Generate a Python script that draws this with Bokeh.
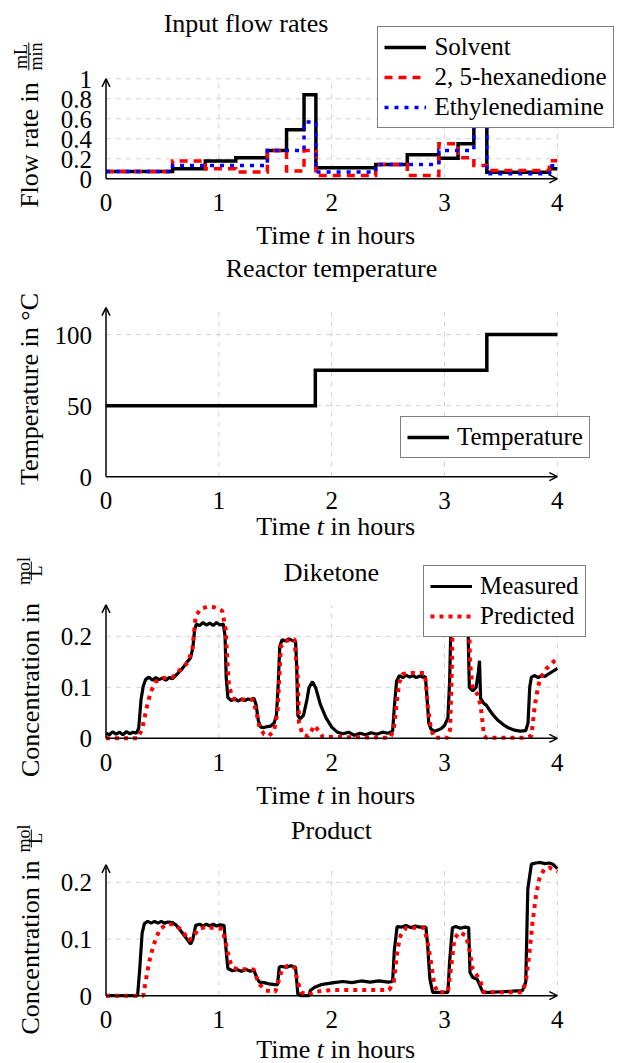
import math
from bokeh.plotting import figure
from bokeh.models import Range1d, Label, Arrow, OpenHead, Legend, LegendItem
from bokeh.core.properties import value
from bokeh.layouts import column
from bokeh.embed import file_html
from bokeh.resources import INLINE

FONT = "Liberation Serif"

# ---------------- data ----------------
x_ticks = [0, 1, 2, 3, 4]
x_tick_labels = ["0", "1", "2", "3", "4"]
flow_ticks = [0, 0.2, 0.4, 0.6, 0.8, 1.0]
flow_tick_labels = ["0", "0.2", "0.4", "0.6", "0.8", "1"]
temp_ticks = [0, 50, 100]
temp_tick_labels = ["0", "50", "100"]
conc_ticks = [0, 0.1, 0.2]
conc_tick_labels = ["0", "0.1", "0.2"]

flow_time = [0.0, 0.59, 0.88, 1.15, 1.43, 1.60, 1.755, 1.86, 2.39, 2.67, 2.95, 3.12, 3.26, 3.375, 3.93, 4.0]
solvent = [0.073, 0.10, 0.177, 0.21, 0.283, 0.49, 0.84, 0.11, 0.143, 0.24, 0.206, 0.35, 0.62, 0.066, 0.10, 0.10]
hexanedione = [0.073, 0.177, 0.10, 0.067, 0.283, 0.077, 0.283, 0.033, 0.143, 0.033, 0.35, 0.21, 0.133, 0.083, 0.18, 0.18]
ethylenediamine = [0.073, 0.133, 0.133, 0.133, 0.283, 0.283, 0.567, 0.067, 0.143, 0.143, 0.283, 0.283, 0.55, 0.05, 0.13, 0.13]

temp_time = [0.0, 1.855, 3.375, 4.0]
temperature = [50, 75, 100, 100]

dik_meas_t = [0.00, 0.03, 0.06, 0.09, 0.12, 0.15, 0.18, 0.21, 0.24, 0.27,
              0.29, 0.31, 0.33, 0.35, 0.38, 0.41, 0.44, 0.47, 0.50, 0.53,
              0.56, 0.59, 0.63, 0.67, 0.71, 0.75, 0.77, 0.785, 0.80, 0.83,
              0.86, 0.89, 0.92, 0.95, 0.98, 1.01, 1.04, 1.055, 1.065, 1.08,
              1.11, 1.14, 1.17, 1.20, 1.23, 1.26, 1.29, 1.31, 1.33, 1.35,
              1.37, 1.40, 1.43, 1.46, 1.49, 1.51, 1.525, 1.54, 1.56, 1.59,
              1.62, 1.65, 1.68, 1.69, 1.70, 1.72, 1.75, 1.78, 1.80, 1.83,
              1.86, 1.90, 1.95, 2.00, 2.05, 2.10, 2.15, 2.20, 2.25, 2.30,
              2.35, 2.40, 2.45, 2.50, 2.54, 2.555, 2.575, 2.60, 2.63, 2.66,
              2.69, 2.72, 2.75, 2.78, 2.81, 2.83, 2.845, 2.86, 2.88, 2.91,
              2.94, 2.97, 3.00, 3.03, 3.045, 3.06, 3.08, 3.20, 3.21, 3.22,
              3.25, 3.28, 3.30, 3.31, 3.32, 3.35, 3.37, 3.40, 3.43, 3.47,
              3.52, 3.57, 3.62, 3.67, 3.72, 3.74, 3.755, 3.77, 3.80, 3.83,
              3.86, 3.89, 3.92, 3.95, 3.98, 4.00]
dik_meas = [0.010, 0.007, 0.013, 0.008, 0.012, 0.007, 0.013, 0.009, 0.012, 0.010,
            0.020, 0.075, 0.102, 0.115, 0.120, 0.114, 0.119, 0.115, 0.118, 0.114,
            0.119, 0.117, 0.126, 0.135, 0.147, 0.158, 0.178, 0.212, 0.224, 0.221,
            0.227, 0.222, 0.226, 0.221, 0.227, 0.222, 0.224, 0.200, 0.120, 0.080,
            0.074, 0.078, 0.073, 0.077, 0.074, 0.077, 0.075, 0.079, 0.066, 0.035,
            0.022, 0.021, 0.023, 0.024, 0.030, 0.045, 0.100, 0.180, 0.193, 0.191,
            0.195, 0.192, 0.190, 0.140, 0.045, 0.038, 0.045, 0.075, 0.100, 0.111,
            0.098, 0.066, 0.040, 0.022, 0.012, 0.009, 0.012, 0.006, 0.010, 0.007,
            0.011, 0.008, 0.012, 0.010, 0.014, 0.060, 0.112, 0.123, 0.119, 0.124,
            0.120, 0.123, 0.119, 0.122, 0.120, 0.121, 0.080, 0.030, 0.018, 0.014,
            0.016, 0.019, 0.025, 0.040, 0.110, 0.250, 0.300, 0.300, 0.200, 0.100,
            0.093, 0.100, 0.130, 0.152, 0.078, 0.068, 0.065, 0.055, 0.046, 0.036,
            0.027, 0.020, 0.016, 0.014, 0.015, 0.030, 0.100, 0.120, 0.123, 0.119,
            0.123, 0.121, 0.126, 0.130, 0.134, 0.137]

dik_pred_t = [0.00, 0.28, 0.32, 0.365, 0.395, 0.44, 0.50, 0.59,
              0.66, 0.726, 0.765, 0.795, 0.84, 0.90, 0.96, 1.03,
              1.06, 1.076, 1.09, 1.12, 1.14, 1.30, 1.33, 1.36,
              1.40, 1.445, 1.49, 1.52, 1.55, 1.58, 1.67, 1.70,
              1.71, 1.74, 1.79, 1.85, 1.92, 2.52, 2.55, 2.584,
              2.60, 2.63, 2.69, 2.82, 2.835, 2.85, 2.88, 2.91,
              3.03, 3.05, 3.066, 3.075, 3.21, 3.226, 3.25, 3.29,
              3.32, 3.34, 3.35, 3.37, 3.72, 3.77, 3.80, 3.83,
              3.856, 3.90, 3.975, 4.00]
dik_pred = [0.000, 0.000, 0.018, 0.064, 0.090, 0.111, 0.118, 0.120,
            0.135, 0.149, 0.175, 0.240, 0.254, 0.258, 0.257, 0.250,
            0.214, 0.149, 0.103, 0.080, 0.076, 0.076, 0.054, 0.022,
            0.008, 0.005, 0.015, 0.051, 0.180, 0.190, 0.195, 0.116,
            0.031, 0.008, 0.004, 0.025, 0.003, 0.001, 0.018, 0.084,
            0.110, 0.126, 0.128, 0.128, 0.110, 0.064, 0.018, 0.001,
            0.001, 0.018, 0.149, 0.300, 0.300, 0.149, 0.097, 0.087,
            0.064, 0.025, 0.005, 0.001, 0.001, 0.005, 0.064, 0.103,
            0.120, 0.136, 0.152, 0.156]

prod_meas_t = [0.00, 0.28, 0.30, 0.32, 0.34, 0.37, 0.40, 0.43,
               0.46, 0.49, 0.52, 0.55, 0.59, 0.62, 0.66, 0.705,
               0.75, 0.77, 0.795, 0.83, 0.86, 0.89, 0.92, 0.95,
               0.98, 1.01, 1.046, 1.06, 1.08, 1.12, 1.16, 1.20,
               1.24, 1.28, 1.31, 1.34, 1.36, 1.40, 1.44, 1.48,
               1.52, 1.535, 1.55, 1.60, 1.64, 1.68, 1.70, 1.73,
               1.80, 1.81, 1.85, 1.90, 1.95, 2.02, 2.10, 2.18,
               2.26, 2.34, 2.42, 2.50, 2.54, 2.555, 2.58, 2.62,
               2.66, 2.70, 2.74, 2.78, 2.835, 2.85, 2.87, 2.895,
               2.95, 3.03, 3.045, 3.07, 3.10, 3.14, 3.18, 3.214,
               3.226, 3.25, 3.29, 3.32, 3.34, 3.40, 3.50, 3.60,
               3.69, 3.72, 3.738, 3.77, 3.81, 3.85, 3.89, 3.93,
               3.96, 4.00]
prod_meas = [0.000, 0.000, 0.050, 0.110, 0.127, 0.131, 0.128, 0.131,
             0.128, 0.131, 0.128, 0.130, 0.129, 0.125, 0.115, 0.103,
             0.091, 0.100, 0.124, 0.126, 0.123, 0.126, 0.123, 0.126,
             0.123, 0.125, 0.124, 0.090, 0.048, 0.044, 0.046, 0.043,
             0.046, 0.043, 0.045, 0.030, 0.024, 0.023, 0.021, 0.020,
             0.019, 0.050, 0.052, 0.050, 0.053, 0.050, 0.003, 0.000,
             0.000, 0.009, 0.015, 0.019, 0.021, 0.023, 0.025, 0.023,
             0.026, 0.024, 0.026, 0.024, 0.025, 0.080, 0.122, 0.121,
             0.124, 0.120, 0.123, 0.121, 0.121, 0.090, 0.030, 0.006,
             0.006, 0.006, 0.060, 0.120, 0.122, 0.119, 0.121, 0.120,
             0.041, 0.032, 0.029, 0.015, 0.006, 0.006, 0.007, 0.008,
             0.009, 0.024, 0.188, 0.232, 0.234, 0.235, 0.233, 0.234,
             0.232, 0.224]

prod_pred_t = [0.00, 0.33, 0.34, 0.365, 0.395, 0.44, 0.48, 0.54,
               0.60, 0.676, 0.735, 0.78, 0.82, 0.88, 1.03, 1.06,
               1.09, 1.12, 1.165, 1.31, 1.34, 1.37, 1.415, 1.50,
               1.535, 1.56, 1.61, 1.67, 1.70, 1.73, 1.79, 1.84,
               1.92, 2.02, 2.51, 2.55, 2.584, 2.61, 2.66, 2.82,
               2.85, 2.88, 2.91, 2.94, 3.03, 3.06, 3.087, 3.13,
               3.19, 3.22, 3.25, 3.29, 3.32, 3.35, 3.69, 3.72,
               3.75, 3.78, 3.81, 3.84, 3.885, 3.93, 3.99, 4.00]
prod_pred = [0.000, 0.000, 0.012, 0.041, 0.071, 0.100, 0.118, 0.126,
             0.126, 0.115, 0.097, 0.106, 0.118, 0.121, 0.118, 0.094,
             0.065, 0.050, 0.047, 0.046, 0.029, 0.018, 0.009, 0.007,
             0.029, 0.047, 0.053, 0.050, 0.024, 0.006, 0.001, 0.006,
             0.009, 0.010, 0.010, 0.024, 0.082, 0.106, 0.120, 0.120,
             0.094, 0.059, 0.018, 0.006, 0.006, 0.053, 0.100, 0.112,
             0.106, 0.082, 0.047, 0.035, 0.024, 0.006, 0.006, 0.024,
             0.071, 0.129, 0.176, 0.206, 0.224, 0.226, 0.220, 0.219]

assert len(dik_meas_t) == len(dik_meas)
assert len(dik_pred_t) == len(dik_pred)
assert len(prod_meas_t) == len(prod_meas)
assert len(prod_pred_t) == len(prod_pred)

# ---------------- layout helpers ----------------
W = 621
X0_PX = 105.5          # canvas x of t = 0
PX_PER_H = 112.84      # pixels per hour
TICK_FS = "25px"
LAB_FS = "26px"
FRAC_FS = "18px"
GRID_COLOR = "#d2d2d2"


def make_panel(height, zero_px, px_per_unit):
    """Frame covers the whole canvas; ranges chosen so the axes sit where the reference has them."""
    xr = Range1d(-X0_PX / PX_PER_H, (W - X0_PX) / PX_PER_H)
    yr = Range1d(-(height - zero_px) / px_per_unit, zero_px / px_per_unit)
    p = figure(width=W, height=height, x_range=xr, y_range=yr, min_border=0,
               output_backend="svg", toolbar_location=None)
    p.axis.visible = False
    p.grid.visible = False
    p.outline_line_color = None
    p.background_fill_color = "white"
    p.border_fill_color = "white"
    return p


def axes(p, yticks, ylabels, ytop):
    # dashed grid at the tick positions
    p.segment(x0=x_ticks[1:], y0=[0] * 4, x1=x_ticks[1:], y1=[ytop] * 4,
              line_color=GRID_COLOR, line_dash="5 5", line_width=1, level="underlay")
    p.segment(x0=[0] * (len(yticks) - 1), y0=yticks[1:], x1=[4] * (len(yticks) - 1), y1=yticks[1:],
              line_color=GRID_COLOR, line_dash="5 5", line_width=1, level="underlay")
    # tick labels
    p.text(x=x_ticks, y=[0] * len(x_ticks), text=x_tick_labels, y_offset=24,
           text_align="center", text_baseline="alphabetic",
           text_font=value(FONT), text_font_size=value(TICK_FS), text_color="black")
    p.text(x=[0] * len(yticks), y=yticks, text=ylabels, x_offset=-14, y_offset=0.5,
           text_align="right", text_baseline="alphabetic",
           text_font=value(FONT), text_font_size=value(TICK_FS), text_color="black")
    # axis lines with arrow heads
    p.add_layout(Arrow(end=OpenHead(size=8, line_width=1.5, line_color="black"),
                       x_start=0, y_start=0, x_end=4.0, y_end=0,
                       line_width=1.5, line_color="black"))
    p.add_layout(Arrow(end=OpenHead(size=8, line_width=1.5, line_color="black"),
                       x_start=0, y_start=0, x_end=0, y_end=ytop,
                       line_width=1.5, line_color="black"))


def txt(p, h, gx, gy, text, size=LAB_FS, angle=0.0, align="center", style="normal"):
    # gx, gy: canvas pixels from the figure's top-left corner (visual centre line of the text)
    p.add_layout(Label(x=gx, y=h - gy, x_units="screen", y_units="screen", text=text,
                       text_font=FONT, text_font_size=size, text_font_style=style,
                       text_align=align, text_baseline="alphabetic", angle=angle,
                       text_color="black"))


def bar(p, h, gx, gy0, gy1):
    p.add_layout(Arrow(start=None, end=None, x_start=gx, y_start=h - gy0,
                       x_end=gx, y_end=h - gy1, start_units="screen", end_units="screen",
                       line_width=1, line_color="black"))


def xlabel(p, h, mid):
    txt(p, h, 309.8, mid, "Time", align="right")
    txt(p, h, 319.9, mid, "t", align="center", style="italic")
    txt(p, h, 330.0, mid, "in hours", align="left")


def make_legend(items, loc):
    return Legend(items=items, location=loc, label_text_font=FONT, label_text_font_size="25px",
                  label_text_color="black", glyph_width=42, glyph_height=20, label_height=20,
                  spacing=2, padding=6, label_standoff=8, border_line_color="black",
                  border_line_width=1.5, background_fill_color="white", background_fill_alpha=1.0,
                  margin=0)


R90 = math.pi / 2

# ---------------- panel 1: flow rates ----------------
H1 = 250
p1 = make_panel(H1, 178.3, 100.0)
axes(p1, flow_ticks, flow_tick_labels, 1.0)
r_sol = p1.step(flow_time, solvent, mode="after", line_color="black", line_width=3.5, line_join="miter")
r_hex = p1.step(flow_time, hexanedione, mode="after", line_color="#ff0000", line_width=3.5,
                line_dash="8 6", line_join="miter")
r_eda = p1.step(flow_time, ethylenediamine, mode="after", line_color="#0000ff", line_width=3.5,
                line_dash="4 6", line_join="miter")
p1.add_layout(make_legend([LegendItem(label="Solvent", renderers=[r_sol]),
                           LegendItem(label="2, 5-hexanedione", renderers=[r_hex]),
                           LegendItem(label="Ethylenediamine", renderers=[r_eda])],
                          (377.4, H1 - 128.3)))
txt(p1, H1, 245.5, 22.6, "Input flow rates")
xlabel(p1, H1, 235)
txt(p1, H1, 28.5, 81.7, "Flow rate in", angle=R90, align="right")
txt(p1, H1, 20.8, 56, "mL", size=FRAC_FS, angle=R90)
txt(p1, H1, 35.8, 56, "min", size=FRAC_FS, angle=R90)
bar(p1, H1, 28.3, 42, 70)

# ---------------- panel 2: temperature ----------------
H2 = 290
p2 = make_panel(H2, 226.2, 1.421)
axes(p2, temp_ticks, temp_tick_labels, 119)
r_tmp = p2.step(temp_time, temperature, mode="after", line_color="black", line_width=3.5, line_join="miter")
p2.add_layout(make_legend([LegendItem(label="Temperature", renderers=[r_tmp])], (400, H2 - 208.3)))
txt(p2, H2, 331, 18.4, "Reactor temperature")
xlabel(p2, H2, 276)
txt(p2, H2, 28.5, 138.5, "Temperature in \u00b0C", angle=R90, align="center")

# ---------------- panel 3: diketone ----------------
H3 = 270
p3 = make_panel(H3, 197.8, 510.0)
axes(p3, conc_ticks, conc_tick_labels, 0.2616)
r_dm = p3.line(dik_meas_t, dik_meas, line_color="black", line_width=3.2)
r_dp = p3.line(dik_pred_t, dik_pred, line_color="#ff0000", line_width=4, line_dash="4 5")
p3.add_layout(make_legend([LegendItem(label="Measured", renderers=[r_dm]),
                           LegendItem(label="Predicted", renderers=[r_dp])], (423, H3 - 97.3)))
txt(p3, H3, 331, 32.4, "Diketone")
xlabel(p3, H3, 255)
txt(p3, H3, 29.5, 62.5, "Concentration in", angle=R90, align="right")
txt(p3, H3, 23.7, 30.5, "mol", size=FRAC_FS, angle=R90)
txt(p3, H3, 35.6, 30.5, "L", size=FRAC_FS, angle=R90)
bar(p3, H3, 30.8, 21, 40)

# ---------------- panel 4: product ----------------
H4 = 253
p4 = make_panel(H4, 185.2, 567.0)
axes(p4, conc_ticks, conc_tick_labels, 0.2306)
p4.line(prod_meas_t, prod_meas, line_color="black", line_width=3.2)
p4.line(prod_pred_t, prod_pred, line_color="#ff0000", line_width=4, line_dash="4 5")
txt(p4, H4, 331, 19.5, "Product")
xlabel(p4, H4, 239)
txt(p4, H4, 29.5, 50, "Concentration in", angle=R90, align="right")
txt(p4, H4, 23.7, 28, "mol", size=FRAC_FS, angle=R90)
txt(p4, H4, 35.6, 28, "L", size=FRAC_FS, angle=R90)
bar(p4, H4, 30.8, 19, 37)

layout = column(p1, p2, p3, p4, spacing=0)
open("out.html", "w").write(file_html(layout, INLINE))
